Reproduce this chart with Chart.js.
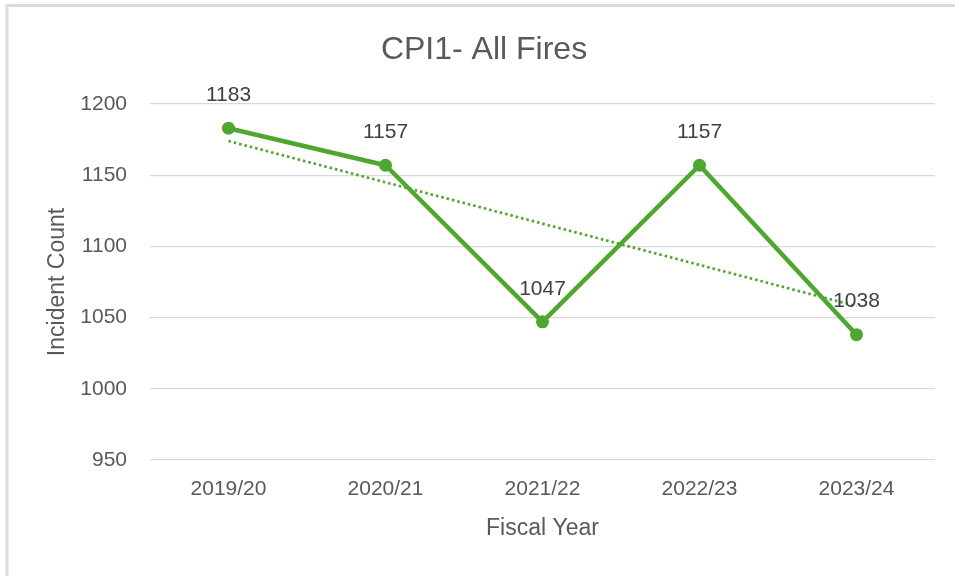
<!DOCTYPE html>
<html>
<head>
<meta charset="utf-8">
<title>CPI1- All Fires</title>
<style>
  html, body { margin: 0; padding: 0; background: #fff; }
  canvas { display: block; }
</style>
</head>
<body>
<canvas id="cpiChart" width="955" height="576"></canvas>
<script src="https://cdn.jsdelivr.net/npm/chart.js@4.4.1/dist/chart.umd.min.js"></script>
<script>
const fiscalYears = ["2019/20", "2020/21", "2021/22", "2022/23", "2023/24"];
const incidentCounts = [1183, 1157, 1047, 1157, 1038];
// linear trendline, both ends
const trendStart = 1174;
const trendEnd = 1058;
const yTicks = [950, 1000, 1050, 1100, 1150, 1200];

const green = "#4ea72e";
const grey = "#595959";
const fontFamily = "'Liberation Sans', Arial, sans-serif";

// white background + the light frame along top and left edge
const framePlugin = {
    id: "frame",
    beforeDraw(chart) {
        const ctx = chart.ctx;
        ctx.save();
        ctx.fillStyle = "#ffffff";
        ctx.fillRect(0, 0, chart.width, chart.height);
        ctx.strokeStyle = "#dcdcdc";
        ctx.lineWidth = 3;
        ctx.beginPath();
        ctx.moveTo(7, chart.height);
        ctx.lineTo(7, 5.5);
        ctx.lineTo(chart.width, 5.5);
        ctx.stroke();
        ctx.restore();
    }
};

// value labels above each point
const valueLabelPlugin = {
    id: "valueLabels",
    afterDatasetsDraw(chart) {
        const ctx = chart.ctx;
        const meta = chart.getDatasetMeta(0);
        ctx.save();
        ctx.font = "21px " + fontFamily;
        ctx.fillStyle = "#404040";
        ctx.textAlign = "center";
        ctx.textBaseline = "middle";
        meta.data.forEach((pt, i) => {
            ctx.fillText(String(incidentCounts[i]), pt.x, pt.y - 33);
        });
        ctx.restore();
    }
};

const ctx = document.getElementById("cpiChart").getContext("2d");

new Chart(ctx, {
    type: "line",
    data: {
        labels: fiscalYears,
        datasets: [
            {
                label: "Incident Count",
                data: incidentCounts,
                borderColor: green,
                backgroundColor: green,
                borderWidth: 4.5,
                borderJoinStyle: "round",
                pointRadius: 6.5,
                pointBorderWidth: 0,
                pointBackgroundColor: green,
                tension: 0
            },
            {
                label: "Linear trend",
                data: [
                    { x: fiscalYears[0], y: trendStart },
                    { x: fiscalYears[fiscalYears.length - 1], y: trendEnd }
                ],
                borderColor: green,
                borderWidth: 2.7,
                borderDash: [2.5, 3],
                pointRadius: 0,
                tension: 0
            }
        ]
    },
    options: {
        responsive: false,
        animation: false,
        layout: { padding: { top: 10, left: 33, right: 20, bottom: 0 } },
        plugins: {
            legend: { display: false },
            tooltip: { enabled: false },
            title: {
                display: true,
                text: "CPI1- All Fires",
                color: grey,
                font: { family: fontFamily, size: 32, weight: "normal" },
                padding: { top: 20.8, bottom: 34.8 }
            }
        },
        scales: {
            x: {
                offset: true,
                grid: { display: false, drawTicks: false },
                border: { display: false },
                ticks: {
                    color: grey,
                    font: { family: fontFamily, size: 21 },
                    padding: 17,
                    maxRotation: 0
                },
                title: {
                    display: true,
                    text: "Fiscal Year",
                    color: grey,
                    font: { family: fontFamily, size: 23 },
                    padding: { top: 0, bottom: 34 }
                },
                afterFit(scale) { scale.height = 116; }
            },
            y: {
                min: 950,
                max: 1200,
                afterBuildTicks(axis) {
                    axis.ticks = yTicks.map(v => ({ value: v }));
                },
                grid: { color: "#d9d9d9", lineWidth: 1.3, drawTicks: false },
                border: { display: false },
                ticks: {
                    color: grey,
                    font: { family: fontFamily, size: 21 },
                    padding: 23,
                    callback: value => String(value)
                },
                title: {
                    display: true,
                    text: "Incident Count",
                    color: grey,
                    font: { family: fontFamily, size: 23 },
                    padding: { top: 11, bottom: 0 }
                },
                afterFit(scale) { scale.width = 117; }
            }
        }
    },
    plugins: [framePlugin, valueLabelPlugin]
});
</script>
</body>
</html>
